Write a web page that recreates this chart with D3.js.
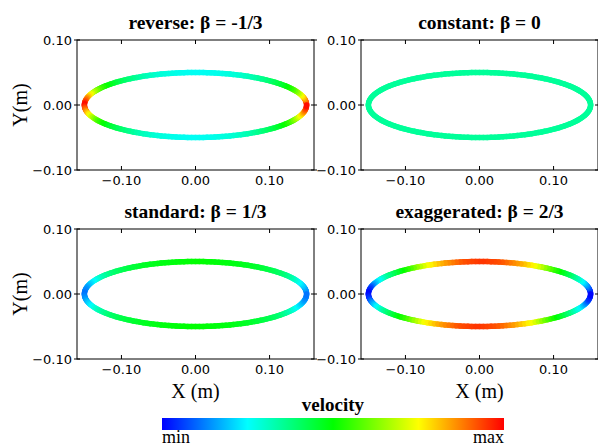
<!DOCTYPE html>
<html>
<head>
<meta charset="utf-8">
<script src="https://cdn.jsdelivr.net/npm/d3@7"></script>
<style>
  body { margin: 0; background: #fff; }
  svg { display: block; }
</style>
</head>
<body>
<svg id="chart" width="598" height="447"></svg>
<script>
// panel titles, in reading order
const panel_titles = [
  "reverse: β = -1/3",
  "constant: β = 0",
  "standard: β = 1/3",
  "exaggerated: β = 2/3",
];

// ellipse semi axes (m)
const semi_x = 0.15;
const semi_y = 0.05;

// colour value (0 = min, 1 = max) read along a quarter of the ellipse,
// angle 0 = tip on the x axis, 90 = top; the other quarters mirror it
const sample_angles = [0, 10, 20, 30, 40, 50, 60, 70, 80, 90];
const vel_reverse = [1.0, 0.88, 0.72, 0.56, 0.46, 0.39, 0.33, 0.29, 0.27, 0.26];
const vel_constant = [0.35, 0.35, 0.35, 0.35, 0.35, 0.35, 0.35, 0.35, 0.35, 0.35];
const vel_standard = [0.11, 0.15, 0.23, 0.32, 0.39, 0.43, 0.46, 0.48, 0.49, 0.5];
const vel_exaggerated = [0.0, 0.06, 0.2, 0.33, 0.44, 0.56, 0.73, 0.84, 0.92, 0.95];
const panel_values = [vel_reverse, vel_constant, vel_standard, vel_exaggerated];

const x_ticks = [-0.1, 0, 0.1];
const y_ticks = [-0.1, 0, 0.1];

const serif = "'Liberation Serif', 'Times New Roman', serif";
const sans = "'DejaVu Sans', sans-serif";

const svg = d3.select("#chart");

// rainbow: blue -> cyan -> green -> yellow -> red
const velocity_color = (t) => d3.hsl(240 * (1 - t), 1, 0.5).toString();

const col_left = [77, 361];
const row_top = [40, 229];
const plot_w = 237;
const plot_h = 130;

const fmt = d3.format(".2f");

panel_titles.forEach((title, i) => {
  const col = i % 2;
  const row = Math.floor(i / 2);
  const x0 = col_left[col];
  const y0 = row_top[row];

  const x = d3.scaleLinear().domain([-0.16, 0.16]).range([x0, x0 + plot_w]);
  const y = d3.scaleLinear().domain([-0.1, 0.1]).range([y0 + plot_h, y0]);

  const g = svg.append("g");

  // value along the quarter, mirrored
  const vals = panel_values[i];
  const quarter = d3.scaleLinear().domain(sample_angles).range(vals).clamp(true);
  const value_at = (deg) => {
    let d = ((deg % 360) + 360) % 360;
    if (d > 180) d = 360 - d;
    if (d > 90) d = 180 - d;
    return quarter(d);
  };

  const steps = d3.range(0, 360, 2);
  g.selectAll("line.seg")
    .data(steps)
    .enter()
    .append("line")
    .attr("class", "seg")
    .attr("x1", (d) => x(semi_x * Math.cos((d * Math.PI) / 180)))
    .attr("y1", (d) => y(semi_y * Math.sin((d * Math.PI) / 180)))
    .attr("x2", (d) => x(semi_x * Math.cos(((d + 2) * Math.PI) / 180)))
    .attr("y2", (d) => y(semi_y * Math.sin(((d + 2) * Math.PI) / 180)))
    .attr("stroke", (d) => velocity_color(value_at(d + 1)))
    .attr("stroke-width", 5.5)
    .attr("stroke-linecap", "round");

  // frame
  g.append("rect")
    .attr("x", x0)
    .attr("y", y0)
    .attr("width", plot_w)
    .attr("height", plot_h)
    .attr("fill", "none")
    .attr("stroke", "#000")
    .attr("stroke-width", 1);

  // x ticks, inside top and bottom
  x_ticks.forEach((t) => {
    g.append("line")
      .attr("x1", x(t)).attr("x2", x(t))
      .attr("y1", y0 + plot_h).attr("y2", y0 + plot_h - 4)
      .attr("stroke", "#000");
    g.append("line")
      .attr("x1", x(t)).attr("x2", x(t))
      .attr("y1", y0).attr("y2", y0 + 4)
      .attr("stroke", "#000");
    g.append("text")
      .attr("x", x(t))
      .attr("y", y0 + plot_h + 15)
      .attr("text-anchor", "middle")
      .attr("font-family", sans)
      .attr("font-size", 13)
      .text(fmt(t));
  });

  // y ticks, crossing left and right spines
  y_ticks.forEach((t) => {
    g.append("line")
      .attr("x1", x0 - 3).attr("x2", x0 + 3)
      .attr("y1", y(t)).attr("y2", y(t))
      .attr("stroke", "#000");
    g.append("line")
      .attr("x1", x0 + plot_w - 3).attr("x2", x0 + plot_w + 3)
      .attr("y1", y(t)).attr("y2", y(t))
      .attr("stroke", "#000");
    g.append("text")
      .attr("x", x0 - 5)
      .attr("y", y(t))
      .attr("dy", "0.36em")
      .attr("text-anchor", "end")
      .attr("font-family", sans)
      .attr("font-size", 13)
      .text(fmt(t));
  });

  g.append("text")
    .attr("x", x0 + plot_w / 2)
    .attr("y", y0 - 11)
    .attr("text-anchor", "middle")
    .attr("font-family", serif)
    .attr("font-weight", "bold")
    .attr("font-size", 19.5)
    .text(title);

  if (col === 0) {
    g.append("text")
      .attr("transform", `translate(27,${y0 + plot_h / 2}) rotate(-90)`)
      .attr("text-anchor", "middle")
      .attr("font-family", serif)
      .attr("font-size", 20)
      .text("Y(m)");
  }
  if (row === 1) {
    g.append("text")
      .attr("x", x0 + plot_w / 2)
      .attr("y", 398)
      .attr("text-anchor", "middle")
      .attr("font-family", serif)
      .attr("font-size", 20)
      .text("X (m)");
  }
});

// colour bar
const bar_x = d3.scaleLinear().domain([0, 1]).range([162, 504]);
const grad = svg.append("defs").append("linearGradient").attr("id", "vgrad");
grad.selectAll("stop")
  .data(d3.range(0, 1.0001, 0.05))
  .enter()
  .append("stop")
  .attr("offset", (d) => `${d * 100}%`)
  .attr("stop-color", (d) => velocity_color(d));

svg.append("rect")
  .attr("x", bar_x(0))
  .attr("y", 418)
  .attr("width", bar_x(1) - bar_x(0))
  .attr("height", 12)
  .attr("fill", "url(#vgrad)");

svg.append("text")
  .attr("x", (bar_x(0) + bar_x(1)) / 2)
  .attr("y", 411)
  .attr("text-anchor", "middle")
  .attr("font-family", serif)
  .attr("font-weight", "bold")
  .attr("font-size", 19)
  .text("velocity");

svg.append("text")
  .attr("x", bar_x(0))
  .attr("y", 443)
  .attr("font-family", serif)
  .attr("font-size", 18)
  .text("min");

svg.append("text")
  .attr("x", bar_x(1))
  .attr("y", 443)
  .attr("text-anchor", "end")
  .attr("font-family", serif)
  .attr("font-size", 18)
  .text("max");
</script>
</body>
</html>
